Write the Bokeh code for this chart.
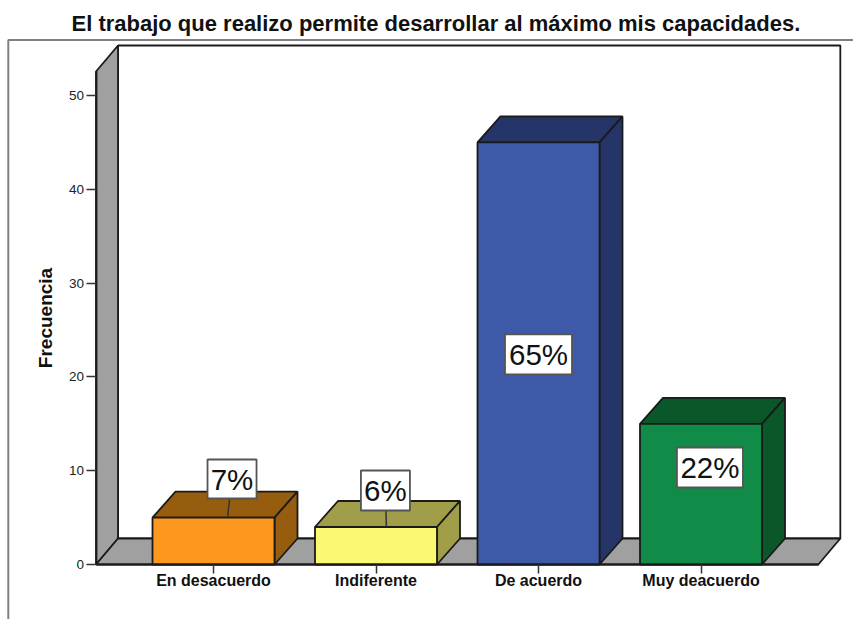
from bokeh.plotting import figure
from bokeh.embed import file_html
from bokeh.resources import INLINE
from bokeh.core.properties import value
from bokeh.models import FixedTicker, Range1d

title = "El trabajo que realizo permite desarrollar al máximo mis capacidades."
categories = ["En desacuerdo", "Indiferente", "De acuerdo", "Muy deacuerdo"]
frequencies = [5, 4, 45, 15]
percent_labels = ["7%", "6%", "65%", "22%"]
y_ticks = [0, 10, 20, 30, 40, 50]
front_colors = ["#fc981e", "#fbf871", "#3f59a9", "#108c48"]
dark_colors = ["#975d0f", "#a09e48", "#253568", "#0a5829"]
label_x = [0.114, 1.058, 2.0, 3.055]
label_y = [9.115, 7.89, 22.4, 10.34]
leader_x = [0.086, 1.064, None, None]
box_widths = [49, 49, 67, 66]

FONT = value("Liberation Sans")
INK = "#1a1a1a"
WALL = "#a0a0a0"
LW = 1.8
PX_X = 162.5          # screen pixels per category
PX_Y = 9.38           # screen pixels per unit of frequency
DX = 23 / PX_X        # depth of the 3D bars
WALL_DX = 22 / PX_X   # depth of the walls
DY = 26 / PX_Y
BAR_W = 122 / PX_X
X0 = -0.723           # left edge of the floor
X1 = 3.722            # right edge of the floor
YTOP = 52.56          # top of the front edge of the left wall

W, H = 853, 619
TOP = 38
x_start = -213 / PX_X
x_end = x_start + W / PX_X
y_end = (564 - TOP) / PX_Y
y_start = y_end - (H - TOP) / PX_Y

p = figure(width=W, height=H, min_border=0, min_border_top=TOP,
           min_border_left=0, min_border_right=0, min_border_bottom=0,
           x_range=Range1d(x_start, x_end), y_range=Range1d(y_start, y_end),
           output_backend="svg", toolbar_location=None, title=title)
p.outline_line_color = None
p.grid.visible = False
p.background_fill_color = "white"
p.title.text_font = "Liberation Sans"
p.title.text_font_size = "22px"
p.title.text_font_style = "bold"
p.title.text_color = "#111111"
p.title.align = "left"
p.title.offset = 71
p.title.standoff = 6

# outer frame: left and top only
LEFT = x_start + 7.8 / PX_X
FRAME_TOP = y_end - 1.6 / PX_Y
p.line([LEFT, LEFT, x_end], [y_start, FRAME_TOP, FRAME_TOP],
       line_color="#808080", line_width=2)

# walls and floor
p.quad(left=[X0 + WALL_DX], right=[X1 + WALL_DX], bottom=[DY], top=[YTOP + DY],
       fill_color="white", line_color=INK, line_width=LW)
p.patch([X0, X0 + WALL_DX, X0 + WALL_DX, X0], [YTOP, YTOP + DY, DY, 0],
        fill_color=WALL, line_color=INK, line_width=LW)
p.patch([X0, X0 + WALL_DX, X1 + WALL_DX, X1], [0, DY, DY, 0],
        fill_color=WALL, line_color=INK, line_width=LW)

# 3D bars
for i, (v, front, dark) in enumerate(zip(frequencies, front_colors, dark_colors)):
    l, r = i - BAR_W / 2, i + BAR_W / 2
    p.patch([l, l + DX, r + DX, r], [v, v + DY, v + DY, v],
            fill_color=dark, line_color=INK, line_width=LW)
    p.patch([r, r + DX, r + DX, r], [0, DY, v + DY, v],
            fill_color=dark, line_color=INK, line_width=LW)
    p.quad(left=[l], right=[r], bottom=[0], top=[v],
           fill_color=front, line_color=INK, line_width=LW)

# leader lines and percent labels
for i, (v, lx, ly, tx) in enumerate(zip(frequencies, label_x, label_y, leader_x)):
    if tx is not None:
        p.line([lx, tx], [ly, v], line_color="#333333", line_width=1.5)
p.rect(x=label_x, y=label_y, width=box_widths, height=[39, 40, 40, 40],
       width_units="screen", height_units="screen",
       fill_color="white", line_color="#555555", line_width=1.8)
p.text(x=label_x, y=label_y, text=percent_labels, text_font=FONT, text_font_size="29.5px",
       text_align="center", text_baseline="middle", text_color="#111111")

# axes
ax = p.xaxis[0]
ax.fixed_location = 0
ax.bounds = (X0, X1)
ax.ticker = FixedTicker(ticks=list(range(len(categories))))
ax.major_label_overrides = {i: c for i, c in enumerate(categories)}
ax.major_label_text_font = "Liberation Sans"
ax.major_label_text_font_size = "16px"
ax.major_label_text_font_style = "bold"
ax.major_label_text_color = "#111111"
ax.major_label_standoff = -2
ax.major_tick_out = 9
ax.major_tick_in = 0
ax.minor_tick_line_color = None
ax.axis_line_color = INK
ax.axis_line_width = LW
ax.major_tick_line_color = "#333333"
ax.major_tick_line_width = 1.5

ay = p.yaxis[0]
ay.fixed_location = X0
ay.bounds = (0, YTOP)
ay.ticker = FixedTicker(ticks=y_ticks)
ay.major_label_text_font = "Liberation Sans"
ay.major_label_text_font_size = "13.5px"
ay.major_label_text_color = "#222222"
ay.major_label_standoff = 2
ay.major_tick_out = 10
ay.major_tick_in = 0
ay.minor_tick_line_color = None
ay.axis_line_color = INK
ay.axis_line_width = LW
ay.major_tick_line_color = "#333333"
ay.major_tick_line_width = 1.5
ay.axis_label = "Frecuencia"
ay.axis_label_text_font = "Liberation Sans"
ay.axis_label_text_font_size = "19px"
ay.axis_label_text_font_style = "bold"
ay.axis_label_text_color = "#111111"
ay.axis_label_standoff = 10

open("out.html", "w").write(file_html(p, INLINE))
